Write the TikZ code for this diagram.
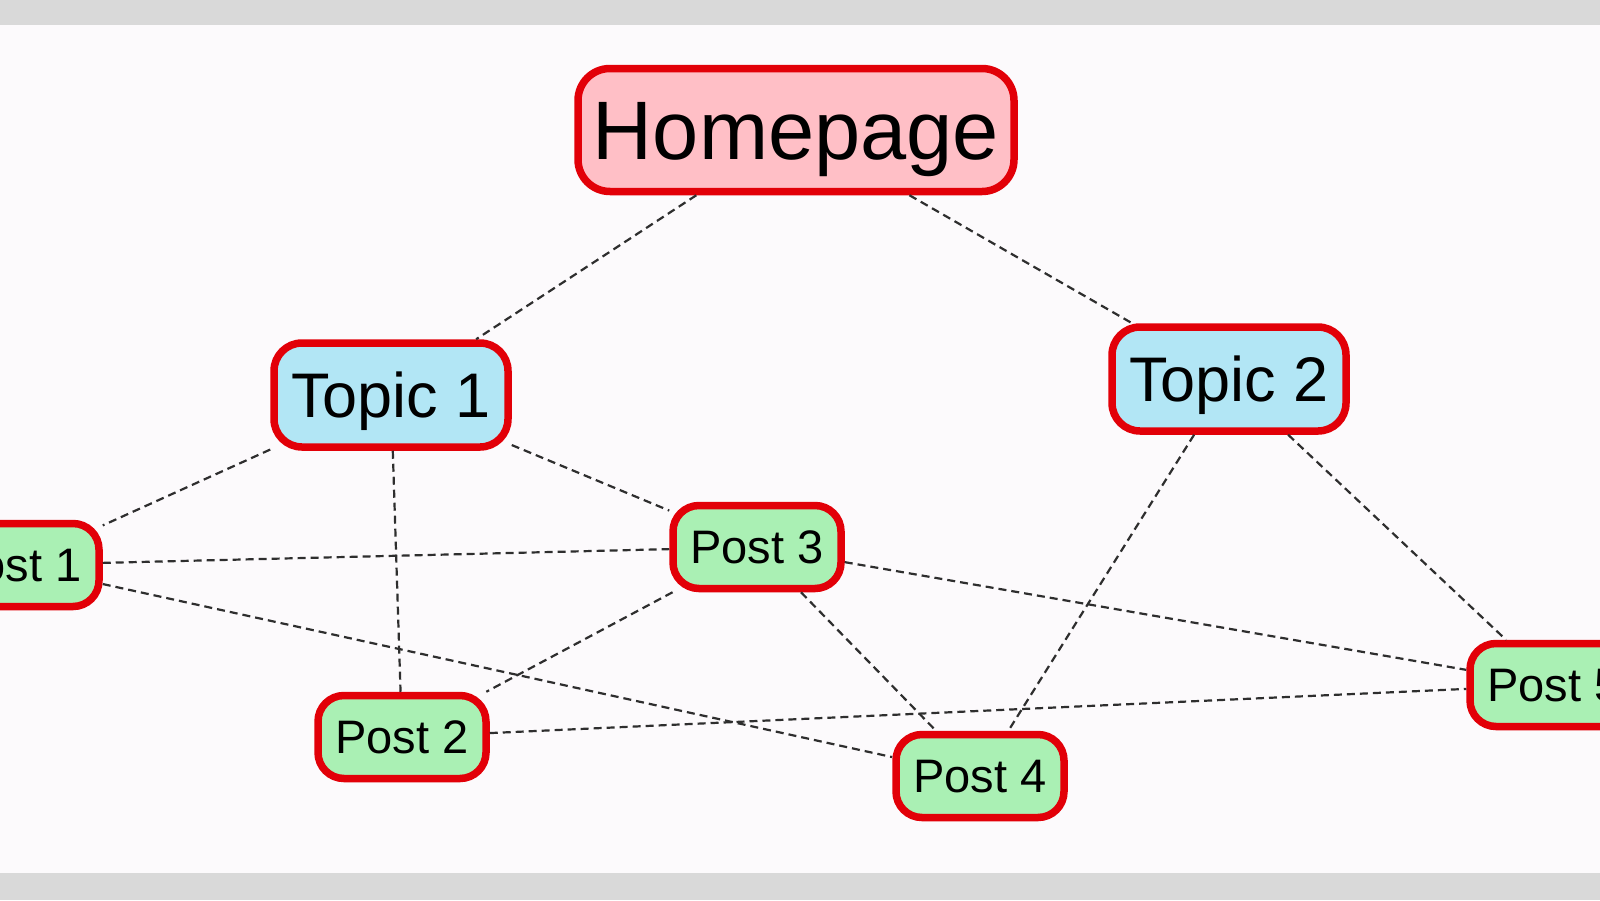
\documentclass[tikz,border=0pt]{standalone}
\usepackage{fontspec}
\setmainfont{Liberation Sans}
\definecolor{barcol}{HTML}{D9D9D9}
\definecolor{bgcol}{HTML}{FCFAFC}
\definecolor{borderred}{HTML}{E20008}
\definecolor{homefill}{HTML}{FFBFC6}
\definecolor{topicfill}{HTML}{B2E6F5}
\definecolor{postfill}{HTML}{AAF0B4}
\definecolor{linkgray}{HTML}{2E2E2E}
\tikzset{
  box/.style={draw=borderred, line width=7.5pt, inner sep=0pt, text depth=0pt},
  home/.style={box, fill=homefill, minimum width=436pt, minimum height=123pt,
    rounded corners=32pt, text height=59.5pt, font=\fontsize{83}{90}\selectfont},
  topic/.style={box, fill=topicfill, minimum width=234pt, minimum height=104pt,
    rounded corners=28pt, text height=45pt, font=\fontsize{63}{70}\selectfont},
  post/.style={box, fill=postfill, minimum width=168pt, minimum height=83pt,
    rounded corners=26pt, text height=33.6pt, font=\fontsize{47}{52}\selectfont},
  link/.style={draw=linkgray, line width=2.2pt, dash pattern=on 8pt off 5pt}
}
\begin{document}
\begin{tikzpicture}[x=1pt,y=-1pt]
\useasboundingbox (0,0) rectangle (1600,900);
\clip (0,0) rectangle (1600,900);
\fill[barcol] (0,0) rectangle (1600,900);
\fill[bgcol] (0,25) rectangle (1600,873);

\node[home]  (home) at (796,130) {Homepage};
\node[topic] (t1)   at (391,395) {Topic 1};
\node[topic] (t2)   at (1229,379) {Topic 2};
\node[post]  (p1)   at (15,565) {Post 1};
\node[post]  (p2)   at (402,737) {Post 2};
\node[post]  (p3)   at (757,547) {Post 3};
\node[post]  (p4)   at (980,776) {Post 4};
\node[post]  (p5)   at (1554,685) {Post 5};

\draw[link] (home) -- (t1);
\draw[link] (home) -- (t2);
\draw[link] (t1) -- (p1);
\draw[link] (t1) -- (p2);
\draw[link] (t1) -- (p3);
\draw[link] (t2) -- (p4);
\draw[link] (t2) -- (p5);
\draw[link] (p1) -- (p3);
\draw[link] (p1) -- (p4);
\draw[link] (p3) -- (p2);
\draw[link] (p3) -- (p4);
\draw[link] (p3) -- (p5);
\draw[link] (p2) -- (p5);
\end{tikzpicture}
\end{document}
